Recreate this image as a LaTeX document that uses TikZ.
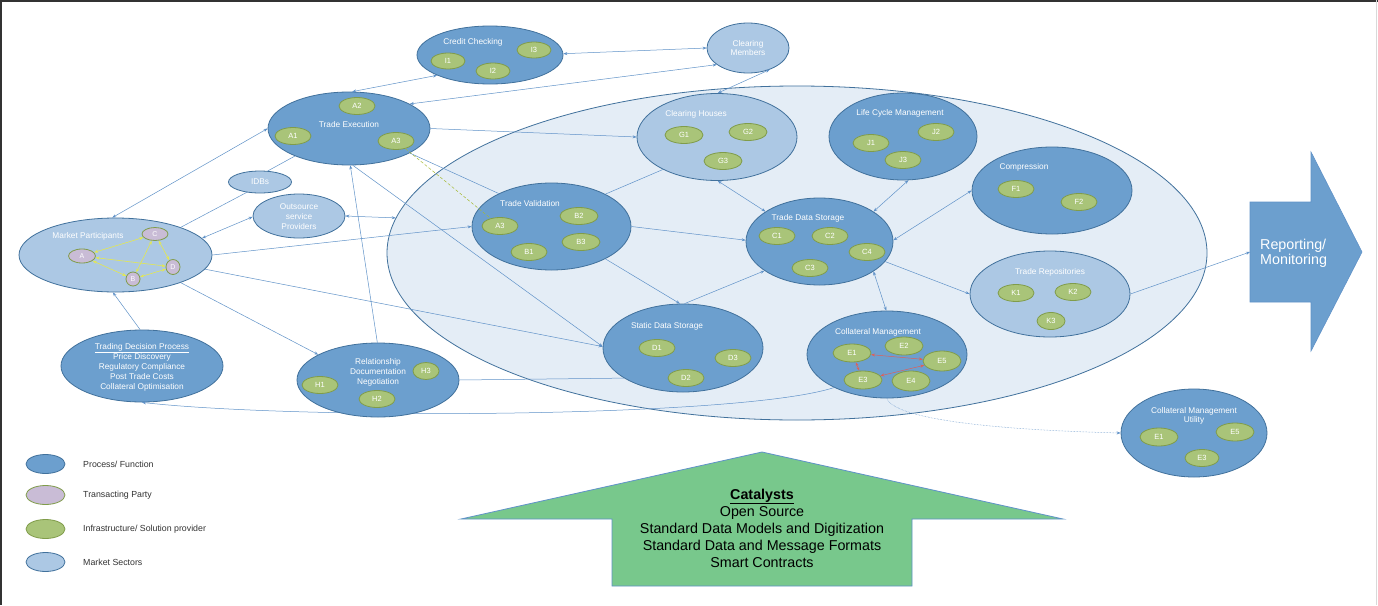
\documentclass[tikz,border=0pt]{standalone}
\usepackage{fontspec}
\setmainfont{Liberation Sans}
\usetikzlibrary{shapes.geometric,arrows.meta}

\definecolor{procblue}{RGB}{108,159,206}
\definecolor{sectorblue}{RGB}{172,200,228}
\definecolor{paleblue}{RGB}{228,237,246}
\definecolor{edgeblue}{RGB}{65,113,156}
\definecolor{linkblue}{RGB}{96,146,200}
\definecolor{infragreen}{RGB}{169,196,121}
\definecolor{infraedge}{RGB}{128,156,74}
\definecolor{partypurple}{RGB}{201,188,214}
\definecolor{catgreen}{RGB}{120,200,140}
\definecolor{linkyellow}{RGB}{228,232,80}
\definecolor{linkred}{RGB}{222,96,90}

\begin{document}
\begin{tikzpicture}[x=1pt, y=-1pt,
  proc/.style={ellipse, draw=edgeblue, fill=procblue, line width=0.8pt, inner sep=0pt},
  sector/.style={ellipse, draw=edgeblue, fill=sectorblue, line width=0.8pt, inner sep=0pt},
  infra/.style={ellipse, draw=infraedge, fill=infragreen, line width=0.8pt, inner sep=0pt,
    minimum width=36pt, minimum height=17pt, text=white, font=\fontsize{7.5}{9}\selectfont},
  party/.style={ellipse, draw=infraedge, fill=partypurple, line width=0.8pt, inner sep=0pt,
    minimum width=26pt, minimum height=13pt, text=white, font=\fontsize{7}{8}\selectfont},
  lbl/.style={text=white, font=\fontsize{8.3}{10}\selectfont, align=center, inner sep=0pt},
  lgtxt/.style={text=black!80, font=\fontsize{8.8}{10}\selectfont, anchor=west, inner sep=0pt},
  link/.style={draw=linkblue, line width=0.5pt},
  >={Stealth[length=4pt, width=3pt]}
]

\useasboundingbox (0,0) rectangle (1378,605);

\fill[white] (0,0) rectangle (1378,605);

\draw[black!80, line width=2pt] (0,1) -- (1378,1);

\draw[black!80, line width=1.5pt] (0.75,0) -- (0.75,605);

\draw[black!15, line width=1pt] (1376,0) -- (1376,605);

\node[ellipse, draw=edgeblue, fill=paleblue, line width=0.8pt, minimum width=820pt, minimum height=334pt] (mkt) at (797,253) {};

% outside the market sectors
\node[proc, minimum width=146pt, minimum height=58pt] (cc) at (490,55) {};
\node[lbl] (cc-t) at (473,42) {Credit Checking};
\node[infra, minimum width=34pt, minimum height=16pt] (i1) at (448,61) {I1};
\node[infra, minimum width=34pt, minimum height=16pt] (i2) at (493,71) {I2};
\node[infra, minimum width=34pt, minimum height=16pt] (i3) at (534,50) {I3};

\node[sector, minimum width=82pt, minimum height=50pt] (cm) at (748,48) {};
\node[lbl, font=\fontsize{8.3}{9}\selectfont] (cm-t) at (748,48.5) {Clearing\\Members};

\node[proc, minimum width=162pt, minimum height=73pt] (te) at (349,128.5) {};
\node[lbl] (te-t) at (349,125) {Trade Execution};
\node[infra] (a2) at (357,106) {A2};
\node[infra] (a1) at (293,136) {A1};
\node[infra] (a3) at (396,141) {A3};

\node[sector, minimum width=63pt, minimum height=22pt] (idb) at (260,182) {};
\node[lbl] (idb-t) at (260,182) {IDBs};

\node[sector, minimum width=92pt, minimum height=44pt] (osp) at (299,216) {};
\node[lbl] (osp-t) at (299,217) {Outsource\\service\\Providers};

\node[sector, minimum width=193pt, minimum height=74pt] (mp) at (115.5,255) {};
\node[lbl] (mp-t) at (88,236) {Market Participants};
\node[party] (pc) at (155,234) {C};
\node[party, minimum width=27pt, minimum height=14pt] (pa) at (82,256) {A};
\node[party, minimum width=14pt, minimum height=14pt] (pb) at (133,279) {B};
\node[party, minimum width=14pt, minimum height=15pt] (pd) at (173,267) {D};

\draw[linkyellow, line width=0.6pt, <->] (pa) -- (pc);
\draw[linkyellow, line width=0.6pt, <->] (pa) -- (pd);
\draw[linkyellow, line width=0.6pt, <->] (pa) -- (pb);
\draw[linkyellow, line width=0.6pt, <->] (pb) -- (pc);
\draw[linkyellow, line width=0.6pt, <->] (pc) -- (pd);
\draw[linkyellow, line width=0.6pt, <->] (pb) -- (pd);

\node[proc, minimum width=162pt, minimum height=72pt] (tdp) at (142,366) {};
\node[lbl] (tdp-t) at (142,367) {\underline{Trading Decision Process}\\Price Discovery\\Regulatory Compliance\\Post Trade Costs\\Collateral Optimisation};

% inside the market sectors
\node[sector, minimum width=160pt, minimum height=87pt] (ch) at (717,137) {};
\node[lbl] (ch-t) at (696,114) {Clearing Houses};
\node[infra, minimum width=38pt] (g1) at (684,135) {G1};
\node[infra, minimum width=38pt] (g2) at (748,132) {G2};
\node[infra, minimum width=38pt] (g3) at (723,161) {G3};

\node[proc, minimum width=148pt, minimum height=87pt] (lcm) at (903,136.5) {};
\node[lbl] (lcm-t) at (900,113) {Life Cycle Management};
\node[infra] (j1) at (871,143) {J1};
\node[infra] (j2) at (936,132) {J2};
\node[infra] (j3) at (903,160) {J3};

\node[proc, minimum width=160pt, minimum height=87pt] (cmp) at (1052,190.5) {};
\node[lbl] (cmp-t) at (1024,167) {Compression};
\node[infra] (f1) at (1016,189) {F1};
\node[infra] (f2) at (1079,202) {F2};

\node[proc, minimum width=159pt, minimum height=87pt] (tv) at (551.5,226.5) {};
\node[lbl] (tv-t) at (530,204) {Trade Validation};
\node[infra] (tv-a3) at (500,226) {A3};
\node[infra, minimum width=38pt] (b2) at (579,216) {B2};
\node[infra, minimum width=38pt] (b3) at (581,242) {B3};
\node[infra] (b1) at (529,252) {B1};

\node[proc, minimum width=147pt, minimum height=87pt] (tds) at (819.5,241.5) {};
\node[lbl] (tds-t) at (808,218) {Trade Data Storage};
\node[infra] (c1) at (777,236) {C1};
\node[infra] (c2) at (830,236) {C2};
\node[infra] (c4) at (867,252) {C4};
\node[infra] (c3) at (810,268) {C3};

\node[sector, minimum width=160pt, minimum height=86pt] (tr) at (1050,294) {};
\node[lbl] (tr-t) at (1050,272) {Trade Repositories};
\node[infra] (k1) at (1016,293) {K1};
\node[infra] (k2) at (1073,292) {K2};
\node[infra, minimum width=28pt] (k3) at (1051,321) {K3};

\node[proc, minimum width=160pt, minimum height=88pt] (sds) at (683,348) {};
\node[lbl] (sds-t) at (667,326) {Static Data Storage};
\node[infra] (d1) at (657,348) {D1};
\node[infra] (d2) at (686,378) {D2};
\node[infra] (d3) at (733,358) {D3};

\node[proc, minimum width=160pt, minimum height=87pt] (col) at (887,354.5) {};
\node[lbl] (col-t) at (878,332) {Collateral Management};
\node[infra, minimum width=38pt, minimum height=18pt] (e1) at (852,353) {E1};
\node[infra, minimum width=38pt, minimum height=18pt] (e2) at (904,346) {E2};
\node[infra, minimum width=38pt, minimum height=20pt] (e5) at (942,361) {E5};
\node[infra, minimum width=38pt, minimum height=18pt] (e3) at (863,380) {E3};
\node[infra, minimum width=38pt, minimum height=20pt] (e4) at (911,381) {E4};

\draw[linkred, line width=0.5pt, <->] (e5) -- (e1);
\draw[linkred, line width=0.5pt, <->] (e1) -- (e3);
\draw[linkred, line width=0.5pt, <->] (e3) -- (e5);

\node[proc, minimum width=146pt, minimum height=88pt] (cmu) at (1194,433) {};
\node[lbl, font=\fontsize{8.3}{9}\selectfont] (cmu-t) at (1194,415.5) {Collateral Management\\Utility};
\node[infra, minimum width=38pt, minimum height=18pt] (u-e1) at (1159,437) {E1};
\node[infra, minimum width=38pt, minimum height=18pt] (u-e5) at (1235,432) {E5};
\node[infra, minimum width=34pt, minimum height=17pt] (u-e3) at (1202,458) {E3};

\draw[link, ->] (col.212) .. controls (740,418) and (300,420) .. (tdp.270);

\node[proc, minimum width=162pt, minimum height=74pt] (rel) at (378,380) {};
\node[lbl] (rel-t) at (378,372) {Relationship\\Documentation\\Negotiation};
\node[infra] (h1) at (320,385) {H1};
\node[infra] (h2) at (377,399) {H2};
\node[infra, minimum width=26pt] (h3) at (426,371) {H3};

% reporting and catalysts arrows
\draw[fill=procblue, draw=linkblue, line width=0.6pt] (1250,202) -- (1311,202) -- (1311,152) -- (1362,252) -- (1311,351) -- (1311,302) -- (1250,302) -- cycle;
\coordinate (rep-in) at (1250,252);
\node[anchor=west, text=white, align=left, inner sep=0pt, font=\fontsize{14.3}{15.5}\selectfont] (rep) at (1260,253.5) {Reporting/\\Monitoring};

\draw[fill=catgreen, draw=linkblue, line width=0.8pt] (612,586) -- (612,519) -- (461,519) -- (762,452) -- (1063,519) -- (912,519) -- (912,586) -- cycle;
\node[align=center, inner sep=0pt, font=\fontsize{14.3}{17}\selectfont] (cat) at (762,528) {\underline{\textbf{Catalysts}}\\Open Source\\Standard Data Models and Digitization\\Standard Data and Message Formats\\Smart Contracts};

% connectors
\draw[link, <->] (mp.95) -- (te.180);
\draw[link, <->] (te.85) -- (cc.201);
\draw[link, <->] (cm.208) -- (te.22);
\draw[link, <->] (cc.1) -- (cm.180);
\draw[link, <->] (cm.-45) -- (ch.89);
\draw[link, ->] (te.0) -- (ch.180);
\draw[link] (te.-22) -- (tv.148);
\draw[infraedge!70!yellow, line width=0.5pt, densely dashed] (a3) -- (tv-a3);
\draw[link, ->] (te.-84) -- (sds.179);
\draw[link, ->] (mp.-9) -- (sds.179);
\draw[link, ->] (mp.0) -- (tv.180);
\draw[link, <->] (mp.11) -- (osp.181);
\draw[link] (idb.218) -- (mp.23);
\draw[link] (idb.55) -- (te.207);
\draw[link, <->] (osp.0) -- (mkt.175);
\draw[link, ->] (rel.91) -- (te.-88);
\draw[link, ->] (mp.-23) -- (rel.157);
\draw[link, ->] (tdp.93) -- (mp.266);
\draw[link, ->, densely dotted] (col.270) .. controls (895,420) and (1000,430) .. (cmu.180);
\draw[link, ->] (tr.0) -- (rep-in);
\draw[link] (tv.31) -- (ch.211);
\draw[link, ->] (tv.0) -- (tds.179);
\draw[link, ->] (tv.-31) -- (sds.94);
\draw[link, ->] (sds.88) -- (tds.208);
\draw[link, <->] (ch.-89) -- (tds.151);
\draw[link, <->] (lcm.-83) -- (tds.29);
\draw[link, <->] (tds.1) -- (cmp.180);
\draw[link, ->] (tds.-17) -- (tr.180);
\draw[link, <->] (tds.-29) -- (col.91);
\draw[link] (rel.0) -- (sds.207);

% legend
\node[proc, minimum width=39pt, minimum height=19pt] (lg-proc) at (45.5,464) {};
\node[lgtxt] (lg-proc-t) at (83,464) {Process/ Function};

\node[ellipse, draw=infraedge, fill=partypurple, line width=0.8pt, minimum width=39pt, minimum height=19pt] (lg-party) at (45.5,495) {};
\node[lgtxt] (lg-party-t) at (83,495) {Transacting Party};

\node[ellipse, draw=infraedge, fill=infragreen, line width=0.8pt, minimum width=39pt, minimum height=19pt] (lg-infra) at (45.5,529) {};
\node[lgtxt] (lg-infra-t) at (83,529) {Infrastructure/ Solution provider};

\node[sector, minimum width=39pt, minimum height=19pt] (lg-sector) at (45.5,562) {};
\node[lgtxt] (lg-sector-t) at (83,562) {Market Sectors};

\end{tikzpicture}
\end{document}
